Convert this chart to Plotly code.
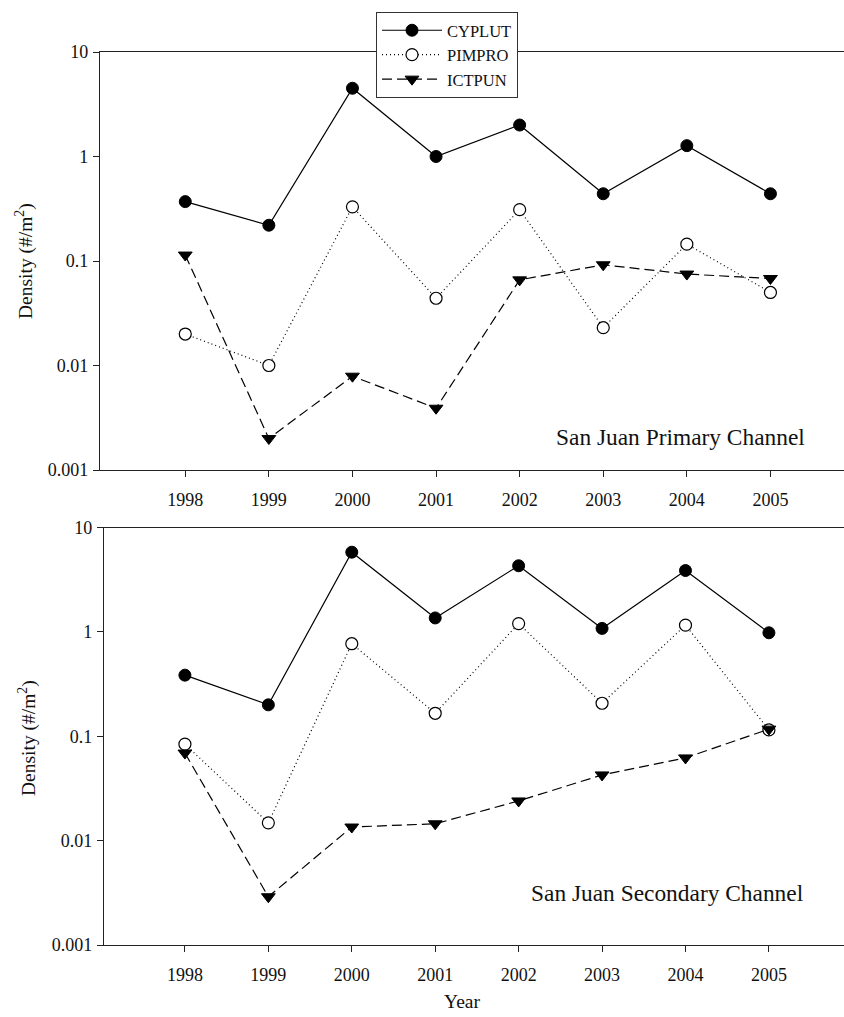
import plotly.graph_objects as go

years = [1998, 1999, 2000, 2001, 2002, 2003, 2004, 2005]
year_labels = ["1998", "1999", "2000", "2001", "2002", "2003", "2004", "2005"]

# San Juan Primary Channel
primary_cyplut = [0.37, 0.22, 4.5, 1.0, 2.0, 0.44, 1.27, 0.44]
primary_pimpro = [0.020, 0.010, 0.33, 0.044, 0.31, 0.023, 0.145, 0.050]
primary_ictpun = [0.114, 0.002, 0.0079, 0.0039, 0.066, 0.092, 0.075, 0.068]

# San Juan Secondary Channel
secondary_cyplut = [0.385, 0.20, 5.8, 1.36, 4.3, 1.08, 3.87, 0.98]
secondary_pimpro = [0.084, 0.0148, 0.77, 0.166, 1.2, 0.207, 1.16, 0.115]
secondary_ictpun = [0.069, 0.0029, 0.0135, 0.0145, 0.024, 0.0426, 0.062, 0.117]

y_ticks = [0.001, 0.01, 0.1, 1, 10]
y_tick_labels = ["0.001", "0.01", "0.1", "1", "10"]

W, H = 844, 1017
FONT = "Liberation Serif, Times New Roman, serif"

series_names = ["CYPLUT", "PIMPRO", "ICTPUN"]
line_styles = [
    dict(color="black", width=1.2, dash="solid"),
    dict(color="black", width=1.2, dash="1px,3px"),
    dict(color="black", width=1.2, dash="10px,5px"),
]
marker_styles = [
    dict(symbol="circle", size=12, color="black", line=dict(color="black", width=1)),
    dict(symbol="circle", size=12, color="white", line=dict(color="black", width=1.2)),
    dict(symbol="triangle-down", size=12, color="black", line=dict(color="black", width=1)),
]

fig = go.Figure()

panels = [
    ("x", "y", [primary_cyplut, primary_pimpro, primary_ictpun], True),
    ("x2", "y2", [secondary_cyplut, secondary_pimpro, secondary_ictpun], False),
]
for xa, ya, data, show in panels:
    for name, vals, ls, ms in zip(series_names, data, line_styles, marker_styles):
        fig.add_trace(go.Scatter(
            x=years, y=vals, name=name, mode="lines+markers",
            line=ls, marker=ms, xaxis=xa, yaxis=ya, showlegend=show,
            cliponaxis=False,
        ))

def px_x(p):
    return p / W

def px_y(p):
    return 1 - p / H

axis_common = dict(
    showgrid=False, zeroline=False, showline=True, linecolor="#222222", linewidth=1.3,
    ticks="outside", ticklen=6, tickwidth=1.2, tickcolor="#222222",
    tickfont=dict(family=FONT, size=18, color="#111111"),
)

fig.update_layout(
    width=W, height=H,
    margin=dict(l=0, r=0, t=0, b=0, autoexpand=False),
    paper_bgcolor="white", plot_bgcolor="white",
    font=dict(family=FONT, color="#111111"),
    xaxis=dict(domain=[px_x(100), 1.0], anchor="y", range=[1996.98, 2005.88],
               tickvals=years, ticktext=year_labels, mirror=True, automargin=False,
               ticklabelstandoff=7, **axis_common),
    yaxis=dict(domain=[px_y(470), px_y(52)], anchor="x", type="log",
               range=[-3, 1], tickvals=y_ticks, ticktext=y_tick_labels,
               automargin=False, ticklabelstandoff=1, **axis_common),
    xaxis2=dict(domain=[px_x(104), 1.0], anchor="y2", range=[1997.03, 2005.9],
                tickvals=years, ticktext=year_labels, mirror=True, automargin=False,
                ticklabelstandoff=7, **axis_common),
    yaxis2=dict(domain=[px_y(945), px_y(527.5)], anchor="x2", type="log",
                range=[-3, 1], tickvals=y_ticks, ticktext=y_tick_labels,
                automargin=False, ticklabelstandoff=1, **axis_common),
    legend=dict(
        x=px_x(376), y=px_y(12), xanchor="left", yanchor="top",
        bgcolor="white", bordercolor="#333333", borderwidth=1,
        font=dict(family=FONT, size=16.5, color="#111111"),
        itemwidth=60, tracegroupgap=0,
    ),
    showlegend=True,
)

annotations = [
    dict(text="San Juan Primary Channel", x=px_x(807), y=px_y(437),
         xref="paper", yref="paper", xanchor="right", yanchor="middle",
         showarrow=False, font=dict(family=FONT, size=23.4, color="#111111")),
    dict(text="San Juan Secondary Channel", x=px_x(806), y=px_y(893),
         xref="paper", yref="paper", xanchor="right", yanchor="middle",
         showarrow=False, font=dict(family=FONT, size=23.4, color="#111111")),
    dict(text="Density (#/m<sup>2</sup>)", x=px_x(25), y=px_y(261),
         xref="paper", yref="paper", xanchor="center", yanchor="middle",
         textangle=-90, showarrow=False, font=dict(family=FONT, size=19.5, color="#111111")),
    dict(text="Density (#/m<sup>2</sup>)", x=px_x(27), y=px_y(738),
         xref="paper", yref="paper", xanchor="center", yanchor="middle",
         textangle=-90, showarrow=False, font=dict(family=FONT, size=19.5, color="#111111")),
    dict(text="Year", x=px_x(462), y=px_y(1001),
         xref="paper", yref="paper", xanchor="center", yanchor="middle",
         showarrow=False, font=dict(family=FONT, size=19.5, color="#111111")),
]
fig.update_layout(annotations=annotations)

fig.write_html(
    "out.html",
    config={"displayModeBar": False},
    post_script="document.body.style.margin='0';document.body.style.padding='0';"
                "document.body.style.overflow='hidden';",
)
